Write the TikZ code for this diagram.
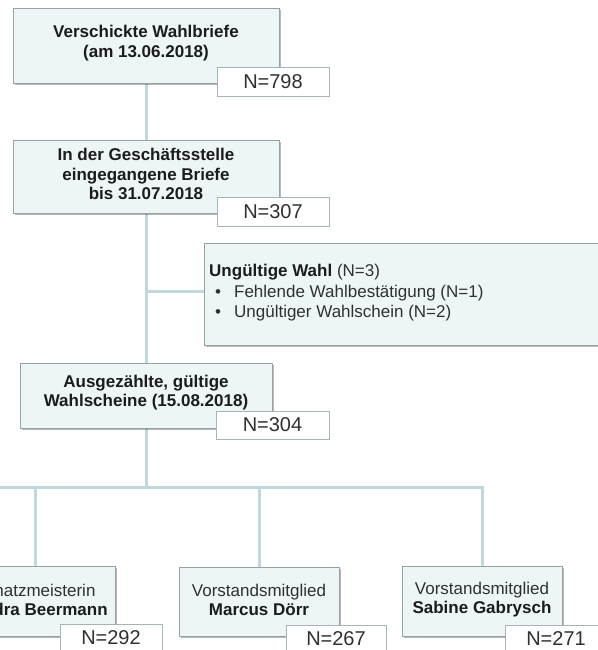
\documentclass[tikz,border=0pt]{standalone}
\usepackage{fontspec}
\setmainfont{Liberation Sans}
\usetikzlibrary{shadows}
\definecolor{boxfill}{RGB}{238,245,246}
\definecolor{boxline}{RGB}{150,162,163}
\definecolor{nline}{RGB}{165,180,182}
\definecolor{connc}{RGB}{192,216,219}
\definecolor{txtb}{RGB}{28,28,28}
\definecolor{txtr}{RGB}{48,48,48}
\pgfdeclarelayer{back}
\pgfdeclarelayer{bg}
\pgfsetlayers{back,bg,main}
\begin{document}
\begin{tikzpicture}[x=1pt,y=-1pt,
  box/.style={draw=boxline, line width=0.8pt, fill=boxfill, inner sep=0pt,
    drop shadow={shadow xshift=1.5pt, shadow yshift=-1.8pt, fill=black, opacity=0.28}},
  nbox/.style={draw=nline, line width=0.8pt, fill=white, inner sep=0pt,
    minimum height=29pt, font=\fontsize{20}{22}\selectfont, text=txtr},
  btext/.style={font=\fontsize{17}{19.5}\selectfont\bfseries, align=center, text=txtb, inner sep=0pt},
  rtext/.style={font=\fontsize{17}{19}\selectfont, align=center, text=txtr, inner sep=0pt},
  connector/.style={draw=connc, line width=3pt}
]
\useasboundingbox (0,0) rectangle (597,650);
\begin{pgfonlayer}{back}
\fill[white] (0,0) rectangle (597,650);
\end{pgfonlayer}

% boxes
\node[box, minimum width=266pt, minimum height=75pt] (b1) at (146,45.5) {};
\node[btext] (t1) at (146,43) {Verschickte Wahlbriefe\\(am 13.06.2018)};
\node[nbox, minimum width=112pt] (n1) at (273,81.5) {N=798};

\node[box, minimum width=266pt, minimum height=73pt] (b2) at (146,176.5) {};
\node[btext] (t2) at (146,174) {In der Geschäftsstelle\\eingegangene Briefe\\bis 31.07.2018};
\node[nbox, minimum width=112pt] (n2) at (273,212) {N=307};

\node[box, minimum width=420pt, minimum height=102pt] (b3) at (414,294) {};
\node[anchor=west, align=left, font=\fontsize{17}{20.5}\selectfont, text=txtr, inner sep=0pt] (t3) at (209,293)
  {{\color{txtb}\bfseries Ungültige Wahl} (N=3)\\
   \hspace*{6pt}\textbullet\hspace{13pt}Fehlende Wahlbestätigung (N=1)\\
   \hspace*{6pt}\textbullet\hspace{13pt}Ungültiger Wahlschein (N=2)};

\node[box, minimum width=252pt, minimum height=65pt] (b4) at (146,395.5) {};
\node[btext] (t4) at (146,392.5) {Ausgezählte, gültige\\Wahlscheine (15.08.2018)};
\node[nbox, minimum width=113pt, minimum height=28pt] (n4) at (272.5,425) {N=304};

\node[box, minimum width=160pt, minimum height=70pt] (b5) at (35,601) {};
\node[rtext] (t5) at (35,600) {Schatzmeisterin\\\textbf{\color{txtb}Sandra Beermann}};
\node[nbox, minimum width=102pt, minimum height=28pt] (n5) at (111,638) {N=292};

\node[box, minimum width=160pt, minimum height=69pt] (b6) at (259,601.5) {};
\node[rtext] (t6) at (259,600) {Vorstandsmitglied\\\textbf{\color{txtb}Marcus Dörr}};
\node[nbox, minimum width=100pt, minimum height=28pt] (n6) at (336,639) {N=267};

\node[box, minimum width=160pt, minimum height=70pt] (b7) at (482,601) {};
\node[rtext] (t7) at (482,600) {Vorstandsmitglied\\\textbf{\color{txtb}Sabine Gabrysch}};
\node[nbox, minimum width=102pt, minimum height=28pt] (n7) at (556,639) {N=271};

% connectors
\coordinate (j1) at (146,291);
\coordinate (j2) at (146,487);
\coordinate (hl) at (0,487);
\begin{pgfonlayer}{bg}
\draw[connector] (b1.south) -- (b2.north);
\draw[connector] (b2.south) -- (b4.north);
\draw[connector] (j1) -- (j1 -| b3.west);
\draw[connector] (b4.south) -- (j2);
\draw[connector] (hl) -- (b7.north |- hl) -- (b7.north);
\draw[connector] (b5.north |- hl) -- (b5.north);
\draw[connector] (b6.north |- hl) -- (b6.north);
\end{pgfonlayer}
\end{tikzpicture}
\end{document}
